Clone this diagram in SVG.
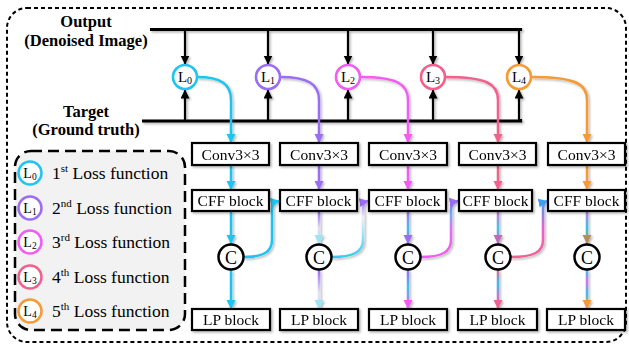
<svg xmlns="http://www.w3.org/2000/svg" width="629" height="346" viewBox="0 0 629 346">
<style>
text{font-family:"Liberation Serif","Times New Roman",Times,"DejaVu Serif",serif}
.box{fill:#fff;stroke:#000;stroke-width:2.2}
.bt{font-size:15.5px;text-anchor:middle;fill:#000}
.lbl{font-weight:bold;font-size:16.5px;text-anchor:middle;fill:#000}
.lt{font-size:15px;text-anchor:middle;fill:#000}
.leg{font-size:17.5px;fill:#000}
.bk{stroke:#000;stroke-width:2.2;fill:none}
.bus{stroke:#000;stroke-width:3.2;fill:none}
.c{fill:none;stroke-width:2.5}
.cc{fill:#fff;stroke:#000;stroke-width:2.5}
</style>
<defs>
<filter id="sh" filterUnits="userSpaceOnUse" x="0" y="0" width="629" height="346">
<feDropShadow dx="1.5" dy="1.5" stdDeviation="1" flood-color="#000" flood-opacity="0.3"/>
</filter>
<marker id="aK" markerUnits="userSpaceOnUse" markerWidth="10" markerHeight="10" refX="9" refY="4.5" orient="auto"><path d="M0,0L9,4.5L0,9z" fill="#000"/></marker>
<marker id="aC" markerUnits="userSpaceOnUse" markerWidth="10" markerHeight="10" refX="9" refY="4.5" orient="auto"><path d="M0,0L9,4.5L0,9z" fill="#1fc4f0"/></marker>
<marker id="aP" markerUnits="userSpaceOnUse" markerWidth="10" markerHeight="10" refX="9" refY="4.5" orient="auto"><path d="M0,0L9,4.5L0,9z" fill="#9b6cf5"/></marker>
<marker id="aM" markerUnits="userSpaceOnUse" markerWidth="10" markerHeight="10" refX="9" refY="4.5" orient="auto"><path d="M0,0L9,4.5L0,9z" fill="#f25cf2"/></marker>
<marker id="aR" markerUnits="userSpaceOnUse" markerWidth="10" markerHeight="10" refX="9" refY="4.5" orient="auto"><path d="M0,0L9,4.5L0,9z" fill="#f2608e"/></marker>
<marker id="aO" markerUnits="userSpaceOnUse" markerWidth="10" markerHeight="10" refX="9" refY="4.5" orient="auto"><path d="M0,0L9,4.5L0,9z" fill="#f59a35"/></marker>
<marker id="aLC" markerUnits="userSpaceOnUse" markerWidth="10" markerHeight="10" refX="9" refY="4.5" orient="auto"><path d="M0,0L9,4.5L0,9z" fill="#9fe3f7"/></marker>
<marker id="aPR" markerUnits="userSpaceOnUse" markerWidth="10" markerHeight="10" refX="9" refY="4.5" orient="auto"><path d="M0,0L9,4.5L0,9z" fill="#c06ab8"/></marker>
<marker id="aOL" markerUnits="userSpaceOnUse" markerWidth="10" markerHeight="10" refX="9" refY="4.5" orient="auto"><path d="M0,0L9,4.5L0,9z" fill="#b0905a"/></marker>
<marker id="aB" markerUnits="userSpaceOnUse" markerWidth="10" markerHeight="10" refX="9" refY="4.5" orient="auto"><path d="M0,0L9,4.5L0,9z" fill="#3aa0f2"/></marker>
<linearGradient id="g2a" gradientUnits="userSpaceOnUse" x1="0" y1="211" x2="0" y2="245"><stop offset="0" stop-color="#9b6cf5"/><stop offset="0.5" stop-color="#e4dcf4"/><stop offset="1" stop-color="#9fe3f7"/></linearGradient>
<linearGradient id="g2b" gradientUnits="userSpaceOnUse" x1="0" y1="270" x2="0" y2="309"><stop offset="0" stop-color="#9b6cf5"/><stop offset="0.6" stop-color="#e8e4f6"/><stop offset="1" stop-color="#9fe3f7"/></linearGradient>
<linearGradient id="g3a" gradientUnits="userSpaceOnUse" x1="0" y1="211" x2="0" y2="245"><stop offset="0" stop-color="#b070f0"/><stop offset="0.5" stop-color="#40c0f0"/><stop offset="1" stop-color="#9b6cf5"/></linearGradient>
<linearGradient id="g3b" gradientUnits="userSpaceOnUse" x1="0" y1="270" x2="0" y2="309"><stop offset="0" stop-color="#9b6cf5"/><stop offset="0.45" stop-color="#40c4f0"/><stop offset="1" stop-color="#f25cf2"/></linearGradient>
<linearGradient id="g4a" gradientUnits="userSpaceOnUse" x1="0" y1="211" x2="0" y2="245"><stop offset="0" stop-color="#e070d0"/><stop offset="0.5" stop-color="#40c4f0"/><stop offset="1" stop-color="#c06ab8"/></linearGradient>
<linearGradient id="g4b" gradientUnits="userSpaceOnUse" x1="0" y1="270" x2="0" y2="309"><stop offset="0" stop-color="#f2608e"/><stop offset="0.35" stop-color="#30c4f0"/><stop offset="0.7" stop-color="#d070d0"/><stop offset="1" stop-color="#f2608e"/></linearGradient>
<linearGradient id="g5a" gradientUnits="userSpaceOnUse" x1="0" y1="211" x2="0" y2="245"><stop offset="0" stop-color="#e070e0"/><stop offset="0.45" stop-color="#30c4f0"/><stop offset="1" stop-color="#b0905a"/></linearGradient>
<linearGradient id="g5b" gradientUnits="userSpaceOnUse" x1="0" y1="270" x2="0" y2="309"><stop offset="0" stop-color="#30c4f0"/><stop offset="0.3" stop-color="#e070e0"/><stop offset="0.6" stop-color="#30c4f0"/><stop offset="1" stop-color="#f59a35"/></linearGradient>
<linearGradient id="s2" gradientUnits="userSpaceOnUse" x1="0" y1="258" x2="0" y2="200"><stop offset="0" stop-color="#30c8f0"/><stop offset="0.45" stop-color="#a8e6f8"/><stop offset="0.7" stop-color="#f0eef8"/><stop offset="1" stop-color="#9b6cf5"/></linearGradient>
<linearGradient id="s3" gradientUnits="userSpaceOnUse" x1="0" y1="258" x2="0" y2="200"><stop offset="0" stop-color="#f25cf2"/><stop offset="0.5" stop-color="#e070f0"/><stop offset="0.75" stop-color="#70b0f4"/><stop offset="1" stop-color="#8a5cf0"/></linearGradient>
<linearGradient id="s4" gradientUnits="userSpaceOnUse" x1="0" y1="258" x2="0" y2="200"><stop offset="0" stop-color="#f2608e"/><stop offset="0.5" stop-color="#f060d0"/><stop offset="1" stop-color="#3aa0f2"/></linearGradient>
</defs>

<rect x="7" y="8" width="619" height="334" rx="20" ry="20" fill="none" stroke="#000" stroke-width="2" stroke-dasharray="4 3"/>

<g id="legend">
<rect x="15" y="151" width="170" height="179" rx="16" ry="16" fill="#f2f2f2" stroke="#000" stroke-width="2.5" stroke-dasharray="11 6"/>
<circle cx="30" cy="173" r="11.5" fill="#fff" stroke="#1fc4f0" stroke-width="2.5"/>
<text x="30" y="178" class="lt" style="font-size:14px">L<tspan font-size="9.5" dy="2">0</tspan></text>
<text x="52" y="179" class="leg">1<tspan font-size="11" dy="-7">st</tspan><tspan dy="7"> Loss function</tspan></text>
<circle cx="30" cy="208" r="11.5" fill="#fff" stroke="#9b6cf5" stroke-width="2.5"/>
<text x="30" y="213" class="lt" style="font-size:14px">L<tspan font-size="9.5" dy="2">1</tspan></text>
<text x="52" y="214" class="leg">2<tspan font-size="11" dy="-7">nd</tspan><tspan dy="7"> Loss function</tspan></text>
<circle cx="30" cy="242" r="11.5" fill="#fff" stroke="#f25cf2" stroke-width="2.5"/>
<text x="30" y="247" class="lt" style="font-size:14px">L<tspan font-size="9.5" dy="2">2</tspan></text>
<text x="52" y="248" class="leg">3<tspan font-size="11" dy="-7">rd</tspan><tspan dy="7"> Loss function</tspan></text>
<circle cx="30" cy="277" r="11.5" fill="#fff" stroke="#f2608e" stroke-width="2.5"/>
<text x="30" y="282" class="lt" style="font-size:14px">L<tspan font-size="9.5" dy="2">3</tspan></text>
<text x="52" y="283" class="leg">4<tspan font-size="11" dy="-7">th</tspan><tspan dy="7"> Loss function</tspan></text>
<circle cx="30" cy="311" r="11.5" fill="#fff" stroke="#f59a35" stroke-width="2.5"/>
<text x="30" y="316" class="lt" style="font-size:14px">L<tspan font-size="9.5" dy="2">4</tspan></text>
<text x="52" y="317" class="leg">5<tspan font-size="11" dy="-7">th</tspan><tspan dy="7"> Loss function</tspan></text>
</g>

<g id="labels">
<text x="86" y="27" class="lbl">Output</text>
<text x="86" y="46" class="lbl">(Denoised Image)</text>
<text x="86" y="117" class="lbl">Target</text>
<text x="86" y="135" class="lbl">(Ground truth)</text>
</g>

<g id="connectors" filter="url(#sh)">
<path class="bus" d="M150,29.5H520.5V31"/>
<path class="bus" d="M142,121H520.5V119"/>
<path class="bk" d="M185,29.5V64.5" marker-end="url(#aK)"/>
<path class="bk" d="M268,29.5V64.5" marker-end="url(#aK)"/>
<path class="bk" d="M348,29.5V64.5" marker-end="url(#aK)"/>
<path class="bk" d="M433,29.5V64.5" marker-end="url(#aK)"/>
<path class="bk" d="M519,29.5V64.5" marker-end="url(#aK)"/>
<path class="bk" d="M185,121V89.5" marker-end="url(#aK)"/>
<path class="bk" d="M268,121V89.5" marker-end="url(#aK)"/>
<path class="bk" d="M348,121V89.5" marker-end="url(#aK)"/>
<path class="bk" d="M433,121V89.5" marker-end="url(#aK)"/>
<path class="bk" d="M519,121V89.5" marker-end="url(#aK)"/>

<path class="c" stroke="#1fc4f0" d="M197,77C221,77 231,84 231,100V143" marker-end="url(#aC)"/>
<path class="c" stroke="#9b6cf5" d="M280,77C308,77 319,84 319,100V143" marker-end="url(#aP)"/>
<path class="c" stroke="#f25cf2" d="M360,77C397,77 408,84 408,100V143" marker-end="url(#aM)"/>
<path class="c" stroke="#f2608e" d="M445,77C487,77 498,84 498,100V143" marker-end="url(#aR)"/>
<path class="c" stroke="#f59a35" d="M531,77C576,77 587,84 587,100V143" marker-end="url(#aO)"/>

<path class="c" stroke="#1fc4f0" d="M231,165V190" marker-end="url(#aC)"/>
<path class="c" stroke="#9b6cf5" d="M319,165V190" marker-end="url(#aP)"/>
<path class="c" stroke="#f25cf2" d="M408,165V190" marker-end="url(#aM)"/>
<path class="c" stroke="#f2608e" d="M498,165V190" marker-end="url(#aR)"/>
<path class="c" stroke="#f59a35" d="M587,165V190" marker-end="url(#aO)"/>

<path class="c" stroke="#1fc4f0" d="M231,211V244" marker-end="url(#aC)"/>
<path class="c" stroke="url(#g2a)" d="M319,211V244" marker-end="url(#aLC)"/>
<path class="c" stroke="url(#g3a)" d="M408,211V244" marker-end="url(#aP)"/>
<path class="c" stroke="url(#g4a)" d="M498,211V244" marker-end="url(#aPR)"/>
<path class="c" stroke="url(#g5a)" d="M587,211V244" marker-end="url(#aOL)"/>

<path class="c" stroke="#1fc4f0" d="M231,270V309" marker-end="url(#aC)"/>
<path class="c" stroke="url(#g2b)" d="M319,270V309" marker-end="url(#aLC)"/>
<path class="c" stroke="url(#g3b)" d="M408,270V309" marker-end="url(#aM)"/>
<path class="c" stroke="url(#g4b)" d="M498,270V309" marker-end="url(#aR)"/>
<path class="c" stroke="url(#g5b)" d="M587,270V309" marker-end="url(#aO)"/>

<path class="c" stroke="#1fc4f0" d="M243.5,257C263,257 272,252 272,240V210Q272,202 279.5,201" marker-end="url(#aC)"/>
<path class="c" stroke="url(#s2)" d="M331.5,257C353,257 363,252 363,240V210Q363,202 368.5,201" marker-end="url(#aP)"/>
<path class="c" stroke="url(#s3)" d="M420.5,257C442,257 451,252 451,240V210Q451,202 458.5,201" marker-end="url(#aP)"/>
<path class="c" stroke="url(#s4)" d="M510.5,257C534,257 543,252 543,240V210Q543,202 547.5,201" marker-end="url(#aB)"/>
</g>

<g id="L0"><circle cx="185" cy="77" r="12" fill="#fff" stroke="#1fc4f0" stroke-width="2.6"/><text x="185" y="82" class="lt">L<tspan font-size="10" dy="2">0</tspan></text></g>
<g id="L1"><circle cx="268" cy="77" r="12" fill="#fff" stroke="#9b6cf5" stroke-width="2.6"/><text x="268" y="82" class="lt">L<tspan font-size="10" dy="2">1</tspan></text></g>
<g id="L2"><circle cx="348" cy="77" r="12" fill="#fff" stroke="#f25cf2" stroke-width="2.6"/><text x="348" y="82" class="lt">L<tspan font-size="10" dy="2">2</tspan></text></g>
<g id="L3"><circle cx="433" cy="77" r="12" fill="#fff" stroke="#f2608e" stroke-width="2.6"/><text x="433" y="82" class="lt">L<tspan font-size="10" dy="2">3</tspan></text></g>
<g id="L4"><circle cx="519" cy="77" r="12" fill="#fff" stroke="#f59a35" stroke-width="2.6"/><text x="519" y="82" class="lt">L<tspan font-size="10" dy="2">4</tspan></text></g>

<g id="conv1" filter="url(#sh)"><rect class="box" x="192" y="143" width="77" height="22"/><text class="bt" x="230.5" y="159.5">Conv3×3</text></g>
<g id="conv2" filter="url(#sh)"><rect class="box" x="280" y="143" width="78" height="22"/><text class="bt" x="319" y="159.5">Conv3×3</text></g>
<g id="conv3" filter="url(#sh)"><rect class="box" x="369" y="143" width="78" height="22"/><text class="bt" x="408" y="159.5">Conv3×3</text></g>
<g id="conv4" filter="url(#sh)"><rect class="box" x="459" y="143" width="77" height="22"/><text class="bt" x="497.5" y="159.5">Conv3×3</text></g>
<g id="conv5" filter="url(#sh)"><rect class="box" x="548" y="143" width="77" height="22"/><text class="bt" x="586.5" y="159.5">Conv3×3</text></g>

<g id="cff1" filter="url(#sh)"><rect class="box" x="192" y="190" width="77" height="21"/><text class="bt" x="230.5" y="206">CFF block</text></g>
<g id="cff2" filter="url(#sh)"><rect class="box" x="280" y="190" width="77" height="21"/><text class="bt" x="318.5" y="206">CFF block</text></g>
<g id="cff3" filter="url(#sh)"><rect class="box" x="369" y="190" width="77" height="21"/><text class="bt" x="407.5" y="206">CFF block</text></g>
<g id="cff4" filter="url(#sh)"><rect class="box" x="459" y="190" width="73" height="21"/><text class="bt" x="495.5" y="206">CFF block</text></g>
<g id="cff5" filter="url(#sh)"><rect class="box" x="548" y="190" width="77" height="21"/><text class="bt" x="586.5" y="206">CFF block</text></g>

<g id="C1"><circle class="cc" cx="231" cy="257" r="12.5"/><text class="bt" x="231" y="263.5" style="font-size:18px">C</text></g>
<g id="C2"><circle class="cc" cx="319" cy="257" r="12.5"/><text class="bt" x="319" y="263.5" style="font-size:18px">C</text></g>
<g id="C3"><circle class="cc" cx="408" cy="257" r="12.5"/><text class="bt" x="408" y="263.5" style="font-size:18px">C</text></g>
<g id="C4"><circle class="cc" cx="498" cy="257" r="12.5"/><text class="bt" x="498" y="263.5" style="font-size:18px">C</text></g>
<g id="C5"><circle class="cc" cx="587" cy="257" r="12.5"/><text class="bt" x="587" y="263.5" style="font-size:18px">C</text></g>

<g id="lp1" filter="url(#sh)"><rect class="box" x="192" y="309" width="78" height="21"/><text class="bt" x="231" y="325">LP block</text></g>
<g id="lp2" filter="url(#sh)"><rect class="box" x="280" y="309" width="78" height="21"/><text class="bt" x="319" y="325">LP block</text></g>
<g id="lp3" filter="url(#sh)"><rect class="box" x="369" y="309" width="78" height="21"/><text class="bt" x="408" y="325">LP block</text></g>
<g id="lp4" filter="url(#sh)"><rect class="box" x="458" y="309" width="79" height="21"/><text class="bt" x="497.5" y="325">LP block</text></g>
<g id="lp5" filter="url(#sh)"><rect class="box" x="547" y="309" width="78" height="21"/><text class="bt" x="586" y="325">LP block</text></g>
</svg>
